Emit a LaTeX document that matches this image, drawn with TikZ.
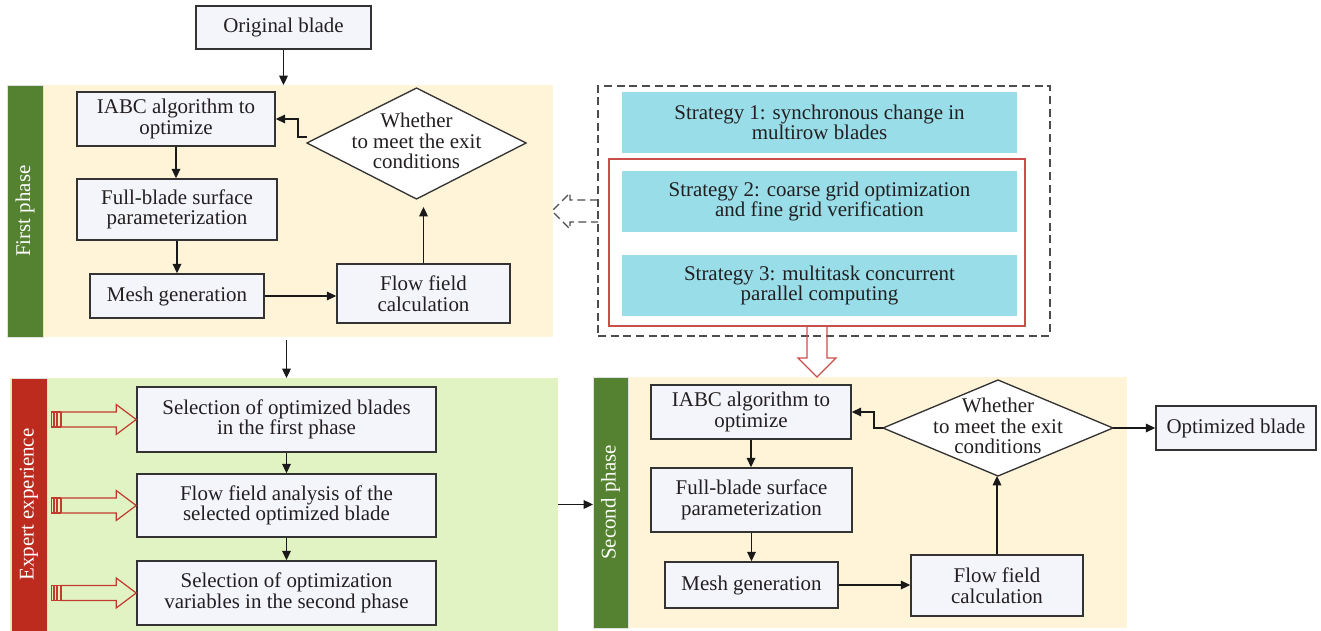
\documentclass[tikz,border=0pt]{standalone}
\usepackage{fontspec}
\setmainfont{Liberation Serif}
\usetikzlibrary{arrows.meta,calc}

\definecolor{panelyellow}{HTML}{FFF4D8}
\definecolor{panelgreen}{HTML}{E1F2C3}
\definecolor{bargreen}{HTML}{548230}
\definecolor{barred}{HTML}{BD2A1E}
\definecolor{boxfill}{HTML}{F4F4FB}
\definecolor{boxline}{HTML}{333333}
\definecolor{stratcyan}{HTML}{98DDE8}
\definecolor{stratred}{HTML}{C9504A}
\definecolor{hollowred}{HTML}{C23B2E}
\definecolor{inkcol}{HTML}{231F20}

\tikzset{
  sz/.style 2 args={minimum width=#1*0.75pt, minimum height=#2*0.75pt},
  panel/.style={inner sep=0pt, outer sep=0pt},
  bar/.style={text=white, inner sep=0pt, outer sep=0pt, draw=black!12, line width=0.6pt, rotate=90},
  box/.style={draw=boxline, line width=1.2pt, fill=boxfill, align=center, inner sep=0pt},
  strategy/.style={fill=stratcyan, align=center, inner sep=0pt},
  decision/.style={draw=boxline, line width=1pt, fill=white},
  conn/.style={draw=black!90, line width=0.9pt, -{Triangle[length=7pt,width=6.5pt]}},
  hollow/.style={draw=hollowred, line width=0.9pt},
}

\begin{document}
\begin{tikzpicture}[x=0.75pt, y=-0.75pt, font=\fontsize{15.7}{15.4}\selectfont, text=inkcol]
\useasboundingbox (0,0) rectangle (1321,631);

% ---------- background panels ----------
\node[panel, fill=panelyellow, sz={546}{252}] (phase1) at (280,211) {};
\node[panel, fill=panelgreen,  sz={548}{253}] (expert) at (284,504.5) {};
\node[panel, fill=panelyellow, sz={534}{251}] (phase2) at (860,502.5) {};

\node[bar, fill=bargreen, sz={252}{36}] (bar1) at (25,211) {First phase};
\node[bar, fill=barred,   sz={253}{36}] (bar3) at (29,504.5) {Expert experience};
\node[bar, fill=bargreen, sz={251}{35}] (bar2) at (610.5,502.5) {Second phase};

% ---------- start ----------
\node[box, sz={175}{43}] (orig) at (283.5,27.5) {Original blade};

% ---------- first phase ----------
\node[box, sz={198}{54}] (iabc1) at (176,119)   {IABC algorithm to\\optimize};
\node[box, sz={200}{61}] (full1) at (177,209.5) {Full-blade surface\\parameterization};
\node[box, sz={174}{44}] (mesh1) at (177,296)   {Mesh generation};
\node[box, sz={173}{59}] (flow1) at (423.5,293.5) {Flow field\\calculation};

\coordinate (d1) at (416.5,143);
\draw[decision] ($(d1)+(-109.5,0)$) coordinate (d1w) -- ($(d1)+(0,-55)$) coordinate (d1n)
  -- ($(d1)+(109.5,0)$) coordinate (d1e) -- ($(d1)+(0,56)$) coordinate (d1s) -- cycle;
\node[align=center, inner sep=0pt] (d1t) at (416.5,141) {Whether\\to meet the exit\\conditions};

% ---------- strategies ----------
\node[panel, draw=black!70, line width=1pt, dash pattern=on 6pt off 3.5pt, sz={452}{250}] (stratall) at (824,211) {};
\node[panel, draw=stratred, line width=1.2pt, sz={416}{167}] (stratgroup) at (817,242.5) {};
\node[strategy, sz={395}{61}] (strat1) at (819.5,122.5) {Strategy 1: synchronous change in\\multirow blades};
\node[strategy, sz={395}{61}] (strat2) at (819.5,201.5) {Strategy 2: coarse grid optimization\\and fine grid verification};
\node[strategy, sz={395}{61}] (strat3) at (819.5,285.5) {Strategy 3: multitask concurrent\\parallel computing};

% hollow dashed arrow towards the first phase
\draw[draw=black!70, line width=1pt, dash pattern=on 6pt off 3.5pt]
  (stratall.west) ++(0,-11) -- ++(-28,0) -- ++(0,-7) -- ++(-18,18) -- ++(18,18) -- ++(0,-7) -- ++(28,0);

% hollow red arrow towards the second phase
\draw[draw=stratred, line width=1pt]
  (stratgroup.south) ++(-10,0) -- ++(0,32) -- ++(-9,0) -- ++(19,19) -- ++(19,-19) -- ++(-9,0) -- ++(0,-32);

% ---------- expert experience ----------
\node[box, sz={299}{65}] (sel1) at (286.5,419.5) {Selection of optimized blades\\in the first phase};
\node[box, sz={299}{63}] (sel2) at (286.5,505.5) {Flow field analysis of the\\selected optimized blade};
\node[box, sz={299}{64}] (sel3) at (286.5,593)   {Selection of optimization\\variables in the second phase};

\foreach \s in {sel1,sel2,sel3}{
  \draw[hollow] (\s.west) -- ++(-20,-15) -- ++(0,7.5) -- ++(-55,0) -- ++(0,15) -- ++(55,0) -- ++(0,7.5) -- cycle;
  \draw[hollow] ($(\s.west)+(-78.5,-7.5)$) rectangle ++(3,15);
  \draw[hollow] ($(\s.west)+(-82,-7.5)$) rectangle ++(2.5,15);
  \draw[hollow] ($(\s.west)+(-85,-7.5)$) rectangle ++(2,15);
}

% ---------- second phase ----------
\node[box, sz={200}{54}] (iabc2) at (751,412)   {IABC algorithm to\\optimize};
\node[box, sz={201}{64}] (full2) at (751.5,500) {Full-blade surface\\parameterization};
\node[box, sz={173}{46}] (mesh2) at (751.5,585) {Mesh generation};
\node[box, sz={172}{61}] (flow2) at (997,585.5) {Flow field\\calculation};
\node[box, sz={160}{44}] (opt)   at (1236,428)  {Optimized blade};

\coordinate (d2) at (998,428);
\draw[decision] ($(d2)+(-115,0)$) coordinate (d2w) -- ($(d2)+(0,-48)$) coordinate (d2n)
  -- ($(d2)+(115,0)$) coordinate (d2e) -- ($(d2)+(0,48)$) coordinate (d2s) -- cycle;
\node[align=center, inner sep=0pt] (d2t) at (998,426) {Whether\\to meet the exit\\conditions};

% ---------- connectors ----------
\draw[conn] (orig.south) -- (orig.south |- phase1.north);
\draw[conn] (iabc1.south) -- (iabc1.south |- full1.north);
\draw[conn] (full1.south) -- (full1.south |- mesh1.north);
\draw[conn] (mesh1.east) -- (mesh1.east -| flow1.west);
\draw[conn, shorten >=6pt] (flow1.north) -- (flow1.north |- d1s);
\draw[conn] ($(d1w)+(0,-6)$) -- ++(-9,0) |- (iabc1.east);

\draw[conn] ($(phase1.south -| sel1.north)+(0,3)$) -- (sel1.north |- expert.north);
\draw[conn] (sel1.south) -- (sel2.north);
\draw[conn] (sel2.south) -- (sel3.north);
\draw[conn] (expert.east) -- (expert.east -| bar2.north);

\draw[conn] (iabc2.south) -- (iabc2.south |- full2.north);
\draw[conn] (full2.south) -- (full2.south |- mesh2.north);
\draw[conn] (mesh2.east) -- (mesh2.east -| flow2.west);
\draw[conn] (flow2.north) -- (flow2.north |- d2s);
\draw[conn] (d2w) -- ++(-9,0) |- (iabc2.east);
\draw[conn] (d2e) -- (opt.west);
\end{tikzpicture}
\end{document}
